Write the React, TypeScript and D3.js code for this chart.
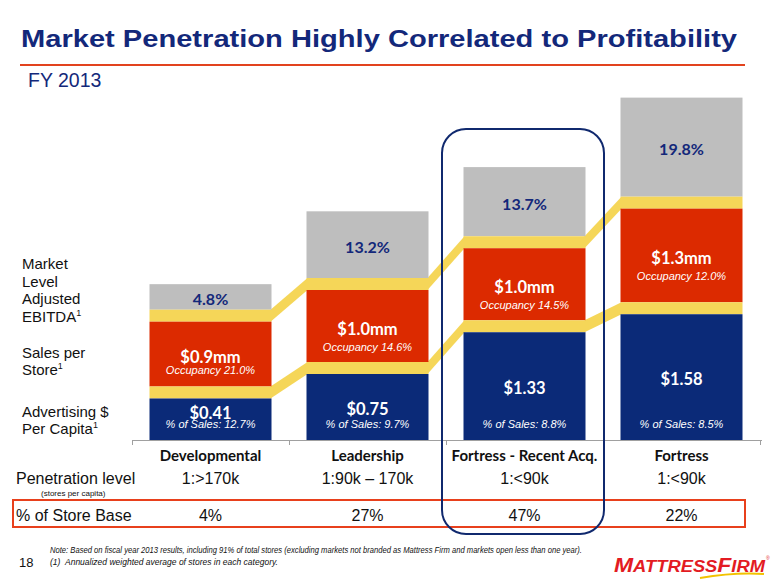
import React from "react";
import * as d3 from "d3";

const W = 780;
const H = 585;

const categories = ["Developmental", "Leadership", "Fortress - Recent Acq.", "Fortress"];
const adPerCapita = [0.41, 0.75, 1.33, 1.58];
const adPctSales = [12.7, 9.7, 8.8, 8.5];
const salesPerStore = [0.9, 1.0, 1.0, 1.3];
const occupancy = [21.0, 14.6, 14.5, 12.0];
const ebitdaMargin = [4.8, 13.2, 13.7, 19.8];
const penetration = ["1:>170k", "1:90k \u2013 170k", "1:<90k", "1:<90k"];
const storeBase = [4, 27, 47, 22];
const highlighted = "Fortress - Recent Acq.";

const NAVY = "#0B2A78";
const RED = "#DC2A00";
const GRAY = "#BEBEBE";
const YELLOW = "#F5D658";
const TITLE = "#13287A";

const SANS = "'Liberation Sans', Arial, sans-serif";
const BOLD = "Lato, 'Open Sans', sans-serif";

export default function App() {
  const baseY = 440;
  const barW = 122;
  const band = 12;
  const x = d3.scaleBand<string>().domain(categories).range([132, 760]).padding(0);
  const hAd = d3.scaleLinear().domain([0, 1]).range([12, 84]);
  const hSales = d3.scaleLinear().domain([0, 1]).range([0, 72]);
  const hEbitda = d3.scaleLinear().domain([0, 10]).range([2, 51]);

  const bars = categories.map((c, i) => {
    const x0 = (x(c) as number) + (x.bandwidth() - barW) / 2;
    const adTop = baseY - hAd(adPerCapita[i]);
    const band1Top = adTop - band;
    const salesTop = band1Top - hSales(salesPerStore[i]);
    const band2Top = salesTop - band;
    const ebTop = band2Top - hEbitda(ebitdaMargin[i]);
    return { c, i, x0, cx: x0 + barW / 2, adTop, band1Top, salesTop, band2Top, ebTop };
  });

  const ribbons: string[] = [];
  for (let i = 0; i < bars.length - 1; i++) {
    const a = bars[i];
    const b = bars[i + 1];
    const line = d3.line();
    ribbons.push(
      line([
        [a.x0 + barW - 1, a.band1Top],
        [b.x0 + 1, b.band1Top],
        [b.x0 + 1, b.adTop],
        [a.x0 + barW - 1, a.adTop],
      ]) + "Z"
    );
    ribbons.push(
      line([
        [a.x0 + barW - 1, a.band2Top],
        [b.x0 + 1, b.band2Top],
        [b.x0 + 1, b.salesTop],
        [a.x0 + barW - 1, a.salesTop],
      ]) + "Z"
    );
  }

  const hx = x(highlighted) as number;
  const colCenter = (c: string) => (x(c) as number) + x.bandwidth() / 2;

  return (
    <svg
      width={W}
      height={H}
      viewBox={`0 0 ${W} ${H}`}
      style={{ position: "absolute", left: 0, top: 0, background: "#fff" }}
    >
      {/* Title */}
      <text x={21} y={47} fontFamily={SANS} fontWeight="bold" fontSize={23} fill={TITLE}
        textLength={716} lengthAdjust="spacingAndGlyphs">
        Market Penetration Highly Correlated to Profitability
      </text>
      <line x1={20} x2={745} y1={65} y2={65} stroke="#E2431E" strokeWidth={2} />
      <text x={28} y={87} fontFamily={SANS} fontSize={19.5} fill={TITLE}>FY 2013</text>

      {/* Left labels */}
      <g fontFamily={SANS} fontSize={15} fill="#111">
        <text x={22} y={269}>Market</text>
        <text x={22} y={287}>Level</text>
        <text x={22} y={304}>Adjusted</text>
        <text x={22} y={322}>EBITDA<tspan fontSize={9} dy={-6}>1</tspan></text>
        <text x={22} y={358}>Sales per</text>
        <text x={22} y={375}>Store<tspan fontSize={9} dy={-6}>1</tspan></text>
        <text x={22} y={417}>Advertising $</text>
        <text x={22} y={434}>Per Capita<tspan fontSize={9} dy={-6}>1</tspan></text>
      </g>

      {/* Ribbons */}
      {ribbons.map((d, k) => (
        <path key={k} d={d} fill={YELLOW} />
      ))}

      {/* Bars */}
      {bars.map((b) => (
        <g key={b.c}>
          <rect x={b.x0} y={b.ebTop} width={barW} height={b.band2Top - b.ebTop} fill={GRAY} />
          <rect x={b.x0} y={b.band2Top} width={barW} height={band} fill={YELLOW} />
          <rect x={b.x0} y={b.salesTop} width={barW} height={b.band1Top - b.salesTop} fill={RED} />
          <rect x={b.x0} y={b.band1Top} width={barW} height={band} fill={YELLOW} />
          <rect x={b.x0} y={b.adTop} width={barW} height={baseY - b.adTop} fill={NAVY} />

          <text x={b.cx} y={(b.ebTop + b.band2Top) / 2 + 8} textAnchor="middle" fontFamily={BOLD}
            fontWeight="bold" fontSize={16} fill={TITLE}>
            {ebitdaMargin[b.i].toFixed(1)}%
          </text>
          <text x={b.cx} y={(b.salesTop + b.band1Top) / 2 + 9} textAnchor="middle" fontFamily={BOLD}
            fontWeight="bold" fontSize={16.5} fill="#fff">
            ${salesPerStore[b.i].toFixed(1)}mm
          </text>
          <text x={b.cx} y={(b.salesTop + b.band1Top) / 2 + 9 + (b.i === 0 ? 11 : 16)} textAnchor="middle"
            fontFamily={SANS} fontStyle="italic" fontSize={11} fill="#fff">
            Occupancy {occupancy[b.i].toFixed(1)}%
          </text>
          <text x={b.cx} y={Math.min((b.adTop + baseY) / 2 + 8, baseY - 21)} textAnchor="middle"
            fontFamily={BOLD} fontWeight="bold" fontSize={16.5} fill="#fff">
            ${adPerCapita[b.i].toFixed(2)}
          </text>
          <text x={b.cx} y={baseY - 12} textAnchor="middle" fontFamily={SANS} fontStyle="italic"
            fontSize={11} fill="#fff">
            % of Sales: {adPctSales[b.i].toFixed(1)}%
          </text>
        </g>
      ))}

      {/* Axis */}
      <line x1={132} x2={762} y1={baseY + 0.5} y2={baseY + 0.5} stroke="#A0A0A0" strokeWidth={1} />
      {[...categories.map((c) => x(c) as number), 760].map((t, k) => (
        <line key={k} x1={t + 0.5} x2={t + 0.5} y1={baseY} y2={baseY + 5} stroke="#A0A0A0" />
      ))}

      {/* Category labels */}
      {categories.map((c) => (
        <text key={c} x={colCenter(c)} y={461} textAnchor="middle" fontFamily={BOLD} fontWeight="bold"
          fontSize={15} fill="#111">
          {c}
        </text>
      ))}

      {/* Penetration row */}
      <text x={16} y={484} fontFamily={SANS} fontSize={16} fill="#111">Penetration level</text>
      <text x={41} y={496} fontFamily={SANS} fontSize={8} fill="#111">(stores per capita)</text>
      {categories.map((c, i) => (
        <text key={c} x={colCenter(c)} y={484} textAnchor="middle" fontFamily={SANS} fontSize={16} fill="#111">
          {penetration[i]}
        </text>
      ))}

      {/* Store base row */}
      <rect x={13} y={500} width={732} height={27} fill="none" stroke="#E8401C" strokeWidth={2} />
      <text x={16} y={521} fontFamily={SANS} fontSize={16} fill="#111">% of Store Base</text>
      {categories.map((c, i) => (
        <text key={c} x={colCenter(c)} y={521} textAnchor="middle" fontFamily={SANS} fontSize={16} fill="#111">
          {storeBase[i]}%
        </text>
      ))}

      {/* Highlight box */}
      <rect x={hx - 4} y={129} width={x.bandwidth() + 5} height={405} rx={24} ry={24} fill="none"
        stroke="#10296E" strokeWidth={2} />

      {/* Footnotes */}
      <text x={19} y={567} fontFamily={SANS} fontSize={13} fill="#111">18</text>
      <text x={50} y={553} fontFamily={SANS} fontStyle="italic" fontSize={8.5} fill="#111"
        textLength={532} lengthAdjust="spacingAndGlyphs">
        Note: Based on fiscal year 2013 results, including 91% of total stores (excluding markets not branded as Mattress Firm and markets open less than one year).
      </text>
      <text x={50} y={565} fontFamily={SANS} fontStyle="italic" fontSize={8.5} fill="#111">(1)</text>
      <text x={65} y={565} fontFamily={SANS} fontStyle="italic" fontSize={8.5} fill="#111">
        Annualized weighted average of stores in each category.
      </text>

      {/* Logo */}
      <text x={614} y={572} fontFamily={SANS} fontWeight="bold" fontStyle="italic" fill="#E31B23"
        textLength={151} lengthAdjust="spacingAndGlyphs">
        <tspan fontSize={20}>M</tspan>
        <tspan fontSize={16}>ATTRESS</tspan>
        <tspan fontSize={20}>F</tspan>
        <tspan fontSize={16}>IRM</tspan>
      </text>
      <text x={766} y={560} fontFamily={SANS} fontSize={5} fill="#E31B23">®</text>
      <path d="M700,578 Q735,572 764,574" fill="none" stroke="#F2C200" strokeWidth={2} />
    </svg>
  );
}
